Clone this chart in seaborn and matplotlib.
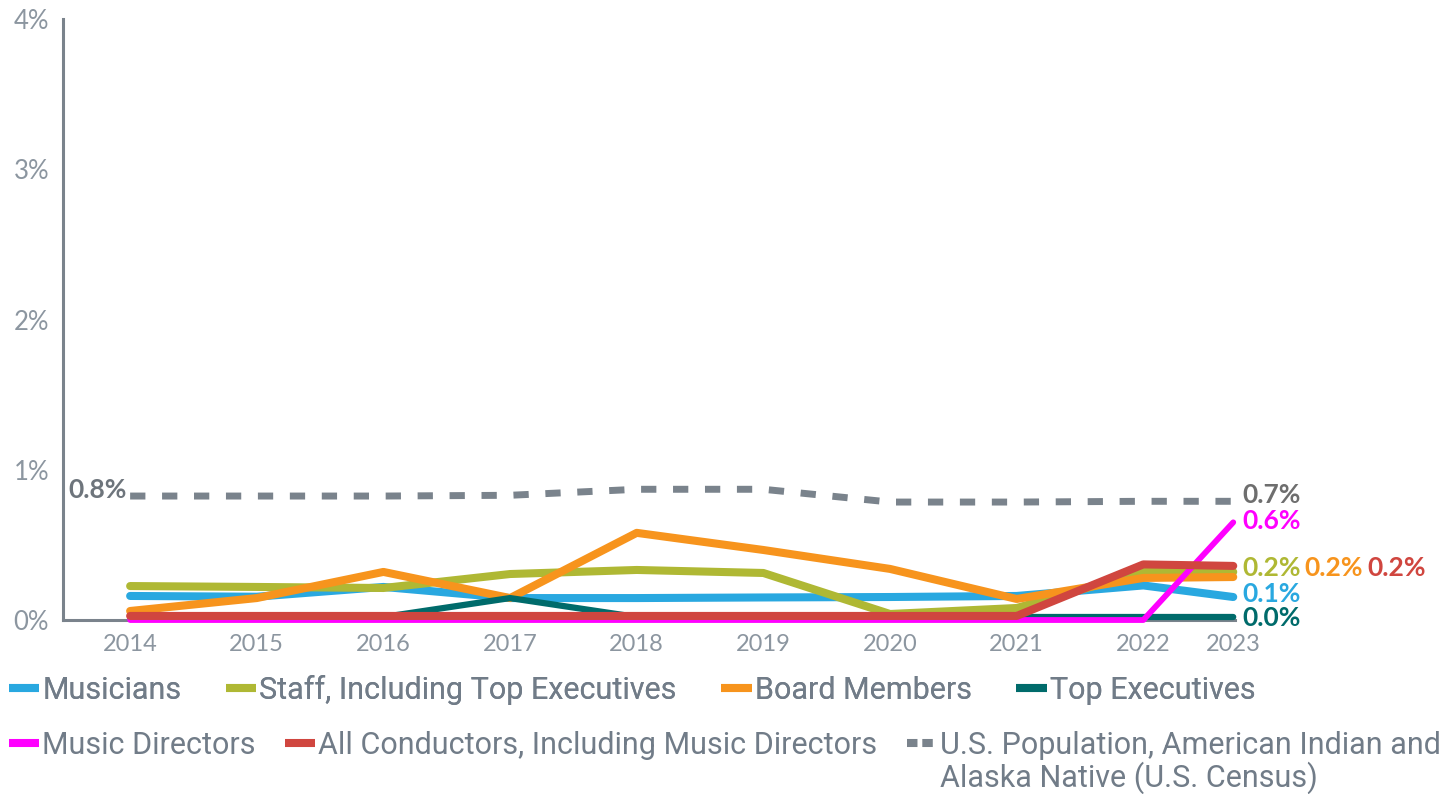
import matplotlib
matplotlib.use("Agg")
import matplotlib.pyplot as plt
import seaborn as sns
from matplotlib.lines import Line2D

# survey points (the 2023 point sits closer to 2022 in the original chart)
x_pos = [2014, 2015, 2016, 2017, 2018, 2019, 2020, 2021, 2022, 2022.71]
year_labels = ["2014", "2015", "2016", "2017", "2018", "2019", "2020", "2021", "2022", "2023"]

musicians = [0.16, 0.155, 0.22, 0.146, 0.146, 0.15, 0.153, 0.16, 0.23, 0.153]
staff = [0.226, 0.22, 0.213, 0.306, 0.333, 0.313, 0.04, 0.08, 0.32, 0.32]
board = [0.06, 0.146, 0.32, 0.146, 0.58, 0.466, 0.34, 0.14, 0.28, 0.286]
top_exec = [0.02, 0.02, 0.02, 0.146, 0.02, 0.02, 0.02, 0.02, 0.02, 0.02]
music_dir = [0, 0, 0, 0, 0, 0, 0, 0, 0, 0.65]
conductors = [0.027, 0.027, 0.027, 0.027, 0.027, 0.027, 0.027, 0.027, 0.37, 0.36]
us_pop = [0.825, 0.825, 0.825, 0.83, 0.87, 0.87, 0.785, 0.785, 0.79, 0.79]

series_names = ["Musicians", "Staff, Including Top Executives", "Board Members", "Top Executives",
                "Music Directors", "All Conductors, Including Music Directors",
                "U.S. Population, American Indian and", "Alaska Native (U.S. Census)"]
end_labels = ["0.1%", "0.2%", "0.2%", "0.0%", "0.6%", "0.2%", "0.7%"]
start_label = "0.8%"

colors = ["#29A8E0", "#AFB834", "#F7941D", "#006B6B", "#FF00FF", "#D0463F", "#7A838C"]
tick_color = "#8C96A0"
legend_text = "#717C88"

sns.set_style("white")
plt.rcParams["font.family"] = ["Lato", "DejaVu Sans"]

fig = plt.figure(figsize=(14.51, 7.94), dpi=100)
ax = fig.add_axes([63 / 1451, 1 - 620 / 794, (1234.5 - 63) / 1451, (620 - 19) / 794])

data = [musicians, staff, board, top_exec, music_dir, conductors]
widths = [5.8, 5.8, 5.8, 4.5, 4.2, 5.8]
for vals, c, lw in zip(data, colors, widths):
    sns.lineplot(x=x_pos, y=vals, ax=ax, color=c, lw=lw, clip_on=False, zorder=3)
sns.lineplot(x=x_pos, y=us_pop, ax=ax, color=colors[6], lw=5, clip_on=False, zorder=3)
ax.lines[-1].set_dashes([2.2, 2.4])

ax.set_xlim(2013.47, 2022.72)
ax.set_ylim(0, 4)
ax.set_yticks([0, 1, 2, 3, 4])
ax.set_yticklabels(["0%", "1%", "2%", "3%", "4%"])
ax.set_xticks(x_pos)
ax.set_xticklabels(year_labels)
ax.tick_params(axis="y", length=8, width=2.2, color="#7A838C", labelcolor=tick_color,
               labelsize=18.5, pad=2)
ax.tick_params(axis="x", length=5, width=1.2, color="#C8CDD2", labelcolor=tick_color,
               labelsize=17, pad=5)
for s in ["top", "right"]:
    ax.spines[s].set_visible(False)
for s in ["left", "bottom"]:
    ax.spines[s].set_color("#7A838C")
    ax.spines[s].set_linewidth(2.2)

# end-of-line labels
end_vals = [musicians[-1], staff[-1], staff[-1], top_exec[-1], music_dir[-1], staff[-1], us_pop[-1]]
label_colors = [colors[0], colors[1], colors[2], colors[3], colors[4], colors[5], "#6E6E6E"]
x_off = [9, 9, 71, 9, 9, 134, 9]
y_off = [3, 4, 4, -1, 1, 4, 6]
for lab, v, c, dx, dy in zip(end_labels, end_vals, label_colors, x_off, y_off):
    ax.annotate(lab, (x_pos[-1], v), xytext=(dx, dy), textcoords="offset pixels",
                ha="left", va="center", color=c, fontsize=19, fontweight="bold",
                annotation_clip=False)
ax.annotate(start_label, (x_pos[0], us_pop[0]), xytext=(-3, 6), textcoords="offset pixels",
            ha="right", va="center", color="#6E757C", fontsize=19, fontweight="bold",
            annotation_clip=False)

# legend in two flowing rows
def handle(c, lw=5.8, dashed=False):
    h = Line2D([0], [0], color=c, lw=lw, solid_capstyle="butt")
    if dashed:
        h.set_dashes([1.3, 0.6])
        h.set_dash_capstyle("butt")
    return h

legend_font = {"family": ["Roboto", "DejaVu Sans"], "size": 22}
row1 = fig.legend([handle(c) for c in colors[:4]], series_names[:4], loc="center left",
                  bbox_to_anchor=(0.006, 1 - 690 / 794), ncol=4, frameon=False,
                  handlelength=1.0, handletextpad=0.1, columnspacing=1.45, prop=legend_font,
                  labelcolor=legend_text, borderaxespad=0, borderpad=0)
row2 = fig.legend([handle(colors[4]), handle(colors[5]), handle(colors[6], dashed=True)],
                  series_names[4:7], loc="center left",
                  bbox_to_anchor=(0.006, 1 - 745 / 794), ncol=3, frameon=False,
                  handlelength=1.0, handletextpad=0.1, columnspacing=0.95, prop=legend_font,
                  labelcolor=legend_text, borderaxespad=0, borderpad=0)
fig.add_artist(row1)

# second line of the census entry, under its first line
fig.canvas.draw()
bb = row2.get_texts()[2].get_window_extent()
fig.text(bb.x0 / fig.bbox.width, (bb.y0 + bb.height / 2 - 33) / fig.bbox.height, series_names[7],
         ha="left", va="center", color=legend_text, fontdict=legend_font)

fig.savefig("out.png", dpi=100)
